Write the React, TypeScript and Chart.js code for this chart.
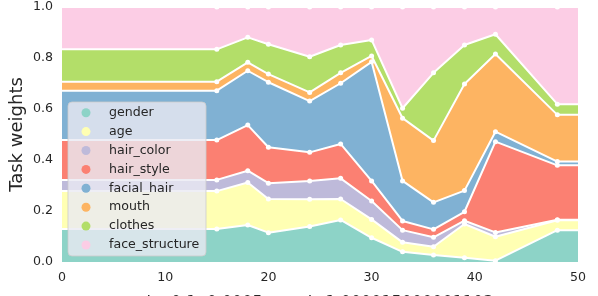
import React, { useEffect, useRef } from "react";
import { Chart, registerables } from "chart.js";
Chart.register(...registerables);

const steps = [0, 15, 18, 20, 24, 27, 30, 33, 36, 39, 42, 48, 50];
const gender = [0.129, 0.129, 0.145, 0.115, 0.139, 0.165, 0.095, 0.04, 0.027, 0.017, 0.005, 0.125, 0.125];
const age = [0.149, 0.149, 0.167, 0.132, 0.107, 0.082, 0.072, 0.037, 0.033, 0.132, 0.094, 0.039, 0.039];
const hairColor = [0.044, 0.044, 0.046, 0.062, 0.072, 0.081, 0.072, 0.048, 0.037, 0.013, 0.017, 0.002, 0.002];
const hairStyle = [0.156, 0.156, 0.179, 0.141, 0.112, 0.135, 0.079, 0.036, 0.031, 0.035, 0.356, 0.213, 0.213];
const facialHair = [0.194, 0.194, 0.213, 0.255, 0.201, 0.238, 0.467, 0.157, 0.106, 0.083, 0.039, 0.015, 0.015];
const mouth = [0.035, 0.035, 0.033, 0.032, 0.034, 0.041, 0.023, 0.246, 0.242, 0.418, 0.305, 0.183, 0.183];
const clothes = [0.127, 0.127, 0.098, 0.117, 0.14, 0.109, 0.063, 0.039, 0.266, 0.153, 0.077, 0.042, 0.042];
const faceStructure = [0.166, 0.166, 0.119, 0.146, 0.195, 0.149, 0.129, 0.397, 0.258, 0.149, 0.107, 0.381, 0.381];

const seriesNames = ["gender", "age", "hair_color", "hair_style", "facial_hair", "mouth", "clothes", "face_structure"];
const seriesValues = [gender, age, hairColor, hairStyle, facialHair, mouth, clothes, faceStructure];
const seriesColors = ["#8dd3c7", "#ffffb3", "#bebada", "#fb8072", "#80b1d3", "#fdb462", "#b3de69", "#fccde5"];

const yTicks = [0, 0.2, 0.4, 0.6, 0.8, 1.0];
const xTicks = [0, 10, 20, 30, 40, 50];
const yTitle = "Task weights";
const xTitle = "lr=0.1, 0.0005 — wd=1.000015000001103";

const FONT = "'DejaVu Sans', sans-serif";
const TEXT = "#262626";

const boxLegend = {
  id: "boxLegend",
  afterDraw(chart: any) {
    const { ctx, chartArea } = chart;
    const w = 138;
    const rowH = 18.9;
    const h = 154;
    const x0 = chartArea.left + 6;
    const y0 = chartArea.bottom - 6 - h;
    ctx.save();
    ctx.beginPath();
    const r = 4;
    ctx.moveTo(x0 + r, y0);
    ctx.arcTo(x0 + w, y0, x0 + w, y0 + h, r);
    ctx.arcTo(x0 + w, y0 + h, x0, y0 + h, r);
    ctx.arcTo(x0, y0 + h, x0, y0, r);
    ctx.arcTo(x0, y0, x0 + w, y0, r);
    ctx.closePath();
    ctx.fillStyle = "rgba(234,234,242,0.8)";
    ctx.fill();
    ctx.strokeStyle = "rgba(204,204,204,0.8)";
    ctx.lineWidth = 1;
    ctx.stroke();
    ctx.font = `12.6px ${FONT}`;
    ctx.textBaseline = "middle";
    ctx.textAlign = "left";
    seriesNames.forEach((name, i) => {
      const cy = y0 + 10.7 + i * rowH;
      ctx.beginPath();
      ctx.arc(x0 + 18, cy, 4.5, 0, Math.PI * 2);
      ctx.fillStyle = seriesColors[i];
      ctx.fill();
      ctx.fillStyle = TEXT;
      ctx.fillText(name, x0 + 41, cy);
    });
    ctx.restore();
  },
};

export default function App() {
  const ref = useRef<HTMLCanvasElement | null>(null);
  useEffect(() => {
    if (!ref.current) return;
    const last = steps.length - 1;
    const datasets = seriesNames.map((name, i) => ({
      label: name,
      data: steps.map((s, j) => ({ x: s, y: seriesValues[i][j] })),
      backgroundColor: seriesColors[i],
      borderColor: "#ffffff",
      borderWidth: 2,
      fill: i === 0 ? "origin" : "-1",
      tension: 0,
      pointRadius: (c: any) => (c.dataIndex === 0 || c.dataIndex === last ? 0 : 2.5),
      pointBackgroundColor: "#ffffff",
      pointBorderWidth: 0,
      borderJoinStyle: "round" as const,
    }));
    const chart = new Chart(ref.current, {
      type: "line",
      data: { datasets },
      options: {
        animation: false,
        responsive: false,
        devicePixelRatio: 1,
        layout: { padding: { top: 7, right: 20, left: 0, bottom: 0 } },
        plugins: { legend: { display: false }, tooltip: { enabled: false } },
        scales: {
          x: {
            type: "linear",
            min: 0,
            max: 50,
            grid: { display: false, drawTicks: false },
            border: { display: false },
            afterBuildTicks: (s: any) => {
              s.ticks = xTicks.map((v) => ({ value: v }));
            },
            afterFit: (s: any) => {
              s.height = 34;
              s.paddingLeft = 0;
              s.paddingRight = 0;
            },
            ticks: { color: TEXT, font: { family: FONT, size: 12.6 }, padding: 8, maxRotation: 0 },
            title: {
              display: true,
              text: xTitle,
              color: TEXT,
              font: { family: FONT, size: 16 },
              padding: { top: 0, bottom: -16 },
            },
          },
          y: {
            stacked: true,
            min: 0,
            max: 1,
            grid: { display: false, drawTicks: false },
            border: { display: false },
            afterBuildTicks: (s: any) => {
              s.ticks = yTicks.map((v) => ({ value: v }));
            },
            afterFit: (s: any) => {
              s.width = 62;
              s.paddingTop = 0;
              s.paddingBottom = 0;
            },
            ticks: {
              color: TEXT,
              font: { family: FONT, size: 12.6 },
              padding: 9,
              callback: (v: any) => Number(v).toFixed(1),
            },
            title: {
              display: true,
              text: yTitle,
              color: TEXT,
              font: { family: FONT, size: 18 },
              padding: { top: 7, bottom: 0 },
            },
          },
        },
      },
      plugins: [boxLegend],
    });
    return () => chart.destroy();
  }, []);
  return (
    <div style={{ position: "fixed", left: 0, top: 0, width: 598, height: 296, background: "#fff" }}>
      <canvas ref={ref} width={598} height={296} style={{ display: "block" }} />
    </div>
  );
}
